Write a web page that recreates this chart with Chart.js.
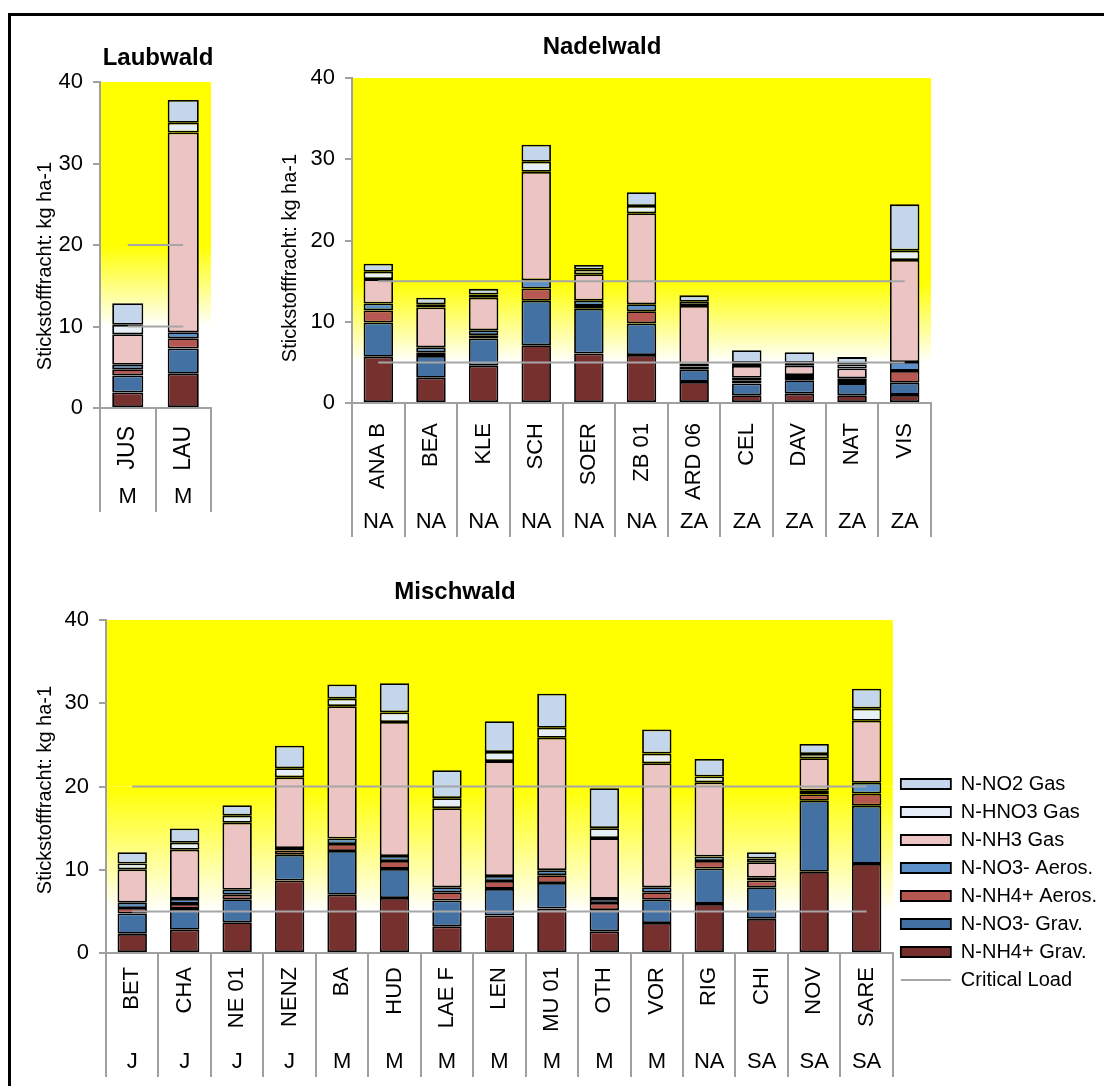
<!doctype html>
<html lang="de">
  <head>
    <meta charset="UTF-8" />
    <title>Stickstofffracht</title>
    <script src="https://cdn.jsdelivr.net/npm/chart.js"></script>
    <style>
      html,
      body {
        margin: 0;
        padding: 0;
        background: #fff;
        overflow: hidden;
      }
      body {
        position: relative;
        width: 1104px;
        height: 1086px;
      }
      .frame {
        position: absolute;
        left: 8px;
        top: 13px;
        width: 1200px;
        height: 1200px;
        border-left: 3px solid #000;
        border-top: 3px solid #000;
      }
      canvas {
        position: absolute;
      }
      #laub { left: 0; top: 0; }
      #nadel { left: 240px; top: 0; }
      #misch { left: 0; top: 560px; }
    </style>
  </head>

  <body>
    <div class="frame"></div>
    <canvas id="laub" width="232" height="530"></canvas>
    <canvas id="nadel" width="712" height="560"></canvas>
    <canvas id="misch" width="1107" height="526"></canvas>

    <script>
      // series, bottom of the stack first
      const seriesNames = ["N-NH4+ Grav.", "N-NO3- Grav.", "N-NH4+ Aeros.", "N-NO3- Aeros.", "N-NH3 Gas", "N-HNO3 Gas", "N-NO2 Gas"];
      const seriesColors = ["#76302e", "#4471a4", "#b65752", "#5b90cb", "#ebc4c3", "#e6eef8", "#c3d6ec"];
      const yMax = 40;
      const yStep = 10;
      const yTitleText = "Stickstofffracht: kg ha-1";

      // Laubwald
      const laubSites = ["JUS", "LAU"];
      const laubGroups = ["M", "M"];
      const laubNH4Grav = [1.9, 4.2];
      const laubNO3Grav = [2.1, 3.1];
      const laubNH4Aeros = [0.75, 1.25];
      const laubNO3Aeros = [0.55, 0.75];
      const laubNH3Gas = [3.75, 24.5];
      const laubHNO3Gas = [1.15, 1.2];
      const laubNO2Gas = [2.65, 2.8];
      const laubCritHigh = [20, 20];
      const laubCritLow = [10, 10];

      // Nadelwald
      const nadelSites = ["ANA B", "BEA", "KLE", "SCH", "SOER", "ZB 01", "ARD 06", "CEL", "DAV", "NAT", "VIS"];
      const nadelGroups = ["NA", "NA", "NA", "NA", "NA", "NA", "ZA", "ZA", "ZA", "ZA", "ZA"];
      const nadelNH4Grav = [5.7, 3.1, 4.6, 7.1, 6.1, 5.9, 2.6, 0.95, 1.15, 0.95, 1.0];
      const nadelNO3Grav = [4.2, 2.7, 3.35, 5.5, 5.5, 3.9, 1.5, 1.45, 1.65, 1.5, 1.5];
      const nadelNH4Aeros = [1.5, 0.45, 0.4, 1.5, 0.35, 1.5, 0.4, 0.35, 0.4, 0.25, 1.45];
      const nadelNO3Aeros = [0.85, 0.6, 0.6, 1.0, 0.65, 0.85, 0.35, 0.35, 0.25, 0.35, 1.1];
      const nadelNH3Gas = [3.0, 4.9, 4.0, 13.35, 3.25, 11.2, 7.1, 1.45, 1.15, 1.2, 12.55];
      const nadelHNO3Gas = [0.9, 0.4, 0.4, 1.25, 0.55, 0.9, 0.5, 0.4, 0.35, 0.5, 1.15];
      const nadelNO2Gas = [1.0, 0.8, 0.7, 2.1, 0.6, 1.7, 0.8, 1.55, 1.3, 0.9, 5.7];
      const nadelCritHigh = [15, 15, 15, 15, 15, 15, 15, 15, 15, 15, 15];
      const nadelCritLow = [5, 5, 5, 5, 5, 5, 5, 5, 5, 5, 5];

      // Mischwald
      const mischSites = ["BET", "CHA", "NE 01", "NENZ", "BA", "HUD", "LAE F", "LEN", "MU 01", "OTH", "VOR", "RIG", "CHI", "NOV", "SARE"];
      const mischGroups = ["J", "J", "J", "J", "M", "M", "M", "M", "M", "M", "M", "NA", "SA", "SA", "SA"];
      const mischNH4Grav = [2.3, 2.8, 3.7, 8.7, 7.0, 6.6, 3.2, 4.5, 5.35, 2.6, 3.6, 5.9, 4.1, 9.75, 10.7];
      const mischNO3Grav = [2.45, 2.5, 2.75, 3.1, 5.25, 3.5, 3.1, 3.2, 3.05, 2.55, 2.8, 4.25, 3.8, 8.55, 7.0];
      const mischNH4Aeros = [0.65, 0.6, 0.55, 0.5, 0.85, 0.95, 1.0, 0.95, 0.95, 0.85, 0.9, 0.9, 0.8, 0.75, 1.45];
      const mischNO3Aeros = [0.65, 0.6, 0.6, 0.3, 0.65, 0.6, 0.6, 0.6, 0.6, 0.5, 0.6, 0.55, 0.35, 0.45, 1.3];
      const mischNH3Gas = [4.0, 5.9, 8.05, 8.5, 15.9, 16.1, 9.5, 13.8, 15.9, 7.3, 14.9, 8.9, 1.85, 3.9, 7.45];
      const mischHNO3Gas = [0.7, 0.85, 0.85, 1.1, 0.9, 1.15, 1.2, 1.1, 1.2, 1.2, 1.15, 0.7, 0.45, 0.5, 1.45];
      const mischNO2Gas = [1.35, 1.7, 1.25, 2.7, 1.7, 3.5, 3.35, 3.7, 4.1, 4.8, 2.9, 2.1, 0.75, 1.2, 2.4];
      const mischCritHigh = [20, 20, 20, 20, 20, 20, 20, 20, 20, 20, 20, 20, 20, 20, 20];
      const mischCritLow = [5, 5, 5, 5, 5, 5, 5, 5, 5, 5, 5, 5, 5, 5, 5];

      const FONT = '"Liberation Sans", Arial, sans-serif';
      const AXIS_GRAY = "#a0a0a0";
      Chart.defaults.font.family = FONT;
      Chart.defaults.font.size = 22;
      Chart.defaults.color = "#000";

      // yellow band above the upper critical load, fading to white at the lower one
      const bgFill = {
        id: "bgFill",
        beforeDraw(chart, args, opts) {
          const { ctx, chartArea: a, scales } = chart;
          const y = scales.y;
          const yTop = y.getPixelForValue(yMax);
          const yHi = y.getPixelForValue(opts.high);
          const yLo = y.getPixelForValue(opts.low);
          ctx.save();
          ctx.fillStyle = "#ffff00";
          ctx.fillRect(a.left, yTop, a.right - a.left, yHi - yTop);
          const g = ctx.createLinearGradient(0, yHi, 0, yLo);
          g.addColorStop(0, "#ffff00");
          g.addColorStop(1, "#ffffff");
          ctx.fillStyle = g;
          ctx.fillRect(a.left, yHi, a.right - a.left, yLo - yHi);
          ctx.restore();
        },
      };

      // panel title and y axis title, placed like in the excel sheet
      const panelText = {
        id: "panelText",
        afterDraw(chart, args, opts) {
          const ctx = chart.ctx;
          ctx.save();
          ctx.fillStyle = "#000";
          ctx.textAlign = "center";
          ctx.textBaseline = "middle";
          ctx.font = "bold 24px " + FONT;
          ctx.fillText(opts.title, opts.titleX, opts.titleY);
          ctx.translate(opts.axisX, opts.axisY);
          ctx.rotate(-Math.PI / 2);
          ctx.font = "20px " + FONT;
          ctx.fillText(yTitleText, 0, 0);
          ctx.restore();
        },
      };

      // move the legend down next to the lower part of the plot
      const legendShift = {
        id: "legendShift",
        afterLayout(chart, args, opts) {
          const lg = chart.legend;
          if (!lg || opts.top == null) return;
          const h = lg.bottom - lg.top;
          lg.top = opts.top;
          lg.bottom = opts.top + h;
        },
      };

      function buildChart(id, p) {
        const datasets = p.values.map((vals, i) => ({
          type: "bar",
          label: seriesNames[i],
          data: vals,
          backgroundColor: seriesColors[i],
          borderColor: "#000",
          borderWidth: 1.8,
          borderSkipped: false,
          stack: "n",
          order: 1,
          barPercentage: 0.56,
          categoryPercentage: 1,
        }));
        p.critical.forEach((vals, k) => {
          datasets.push({
            type: "line",
            label: "Critical Load",
            data: vals,
            borderColor: "#a6a6a6",
            backgroundColor: "#a6a6a6",
            borderWidth: 2,
            pointRadius: 0,
            stack: "cl" + k,
            order: 0,
          });
        });

        return new Chart(document.getElementById(id), {
          type: "bar",
          data: { labels: p.sites, datasets },
          plugins: [bgFill, panelText, legendShift],
          options: {
            responsive: false,
            animation: false,
            layout: { padding: p.padding },
            plugins: {
              tooltip: { enabled: false },
              bgFill: { high: p.critical[0][0], low: p.critical[1][0] },
              panelText: p.text,
              legendShift: { top: p.legendTop },
              legend: {
                display: !!p.legend,
                position: "right",
                align: "start",
                labels: {
                  usePointStyle: true,
                  pointStyleWidth: 50,
                  boxHeight: 10,
                  padding: 8,
                  font: { size: 20 },
                  color: "#000",
                  generateLabels(chart) {
                    const items = Chart.defaults.plugins.legend.labels.generateLabels(chart);
                    const isLine = (it) => chart.data.datasets[it.datasetIndex].type === "line";
                    const bars = items.filter((it) => !isLine(it)).reverse();
                    const line = items.find(isLine);
                    bars.forEach((it) => (it.pointStyle = "rect"));
                    line.pointStyle = "line";
                    return bars.concat([line]);
                  },
                },
              },
            },
            scales: {
              x: {
                stacked: true,
                weight: 0,
                border: { color: AXIS_GRAY, width: 2 },
                grid: { drawOnChartArea: false, offset: true, tickLength: p.siteRow, color: AXIS_GRAY, lineWidth: 2 },
                ticks: { minRotation: 90, maxRotation: 90, autoSkip: false, padding: p.siteTop - p.siteRow, font: { size: p.siteFont } },
                afterFit: (s) => { s.height = p.siteRow; },
              },
              x2: {
                type: "category",
                position: "bottom",
                labels: p.groups,
                offset: true,
                weight: 1,
                border: { display: false },
                grid: { drawOnChartArea: false, offset: true, tickLength: p.groupRow, color: AXIS_GRAY, lineWidth: 2 },
                ticks: { autoSkip: false, maxRotation: 0, padding: -28, font: { size: 22 } },
                afterFit: (s) => { s.height = p.groupRow; },
              },
              y: {
                stacked: true,
                min: 0,
                max: yMax,
                border: { color: AXIS_GRAY, width: 2 },
                grid: { drawOnChartArea: false, tickLength: 7, color: AXIS_GRAY, lineWidth: 2 },
                ticks: { stepSize: yStep, padding: 10, font: { size: 22 } },
                afterFit: (s) => { s.width = p.yWidth; },
              },
            },
          },
        });
      }

      buildChart("laub", {
        sites: laubSites,
        groups: laubGroups,
        values: [laubNH4Grav, laubNO3Grav, laubNH4Aeros, laubNO3Aeros, laubNH3Gas, laubHNO3Gas, laubNO2Gas],
        critical: [laubCritHigh, laubCritLow],
        text: { title: "Laubwald", titleX: 158, titleY: 58, axisX: 45, axisY: 266 },
        padding: { left: 0, right: 21, top: 82, bottom: 18 },
        yWidth: 100,
        siteRow: 78,
        siteTop: 18,
        siteFont: 23,
        groupRow: 26,
      });

      buildChart("nadel", {
        sites: nadelSites,
        groups: nadelGroups,
        values: [nadelNH4Grav, nadelNO3Grav, nadelNH4Aeros, nadelNO3Aeros, nadelNH3Gas, nadelHNO3Gas, nadelNO2Gas],
        critical: [nadelCritHigh, nadelCritLow],
        text: { title: "Nadelwald", titleX: 362, titleY: 47, axisX: 50, axisY: 258 },
        padding: { left: 0, right: 21, top: 78, bottom: 23 },
        yWidth: 112,
        siteRow: 102,
        siteTop: 20,
        siteFont: 22,
        groupRow: 32,
      });

      buildChart("misch", {
        sites: mischSites,
        groups: mischGroups,
        values: [mischNH4Grav, mischNO3Grav, mischNH4Aeros, mischNO3Aeros, mischNH3Gas, mischHNO3Gas, mischNO2Gas],
        critical: [mischCritHigh, mischCritLow],
        text: { title: "Mischwald", titleX: 455, titleY: 32, axisX: 45, axisY: 230 },
        padding: { left: 0, right: 0, top: 60, bottom: 9 },
        yWidth: 106,
        siteRow: 77,
        siteTop: 14,
        siteFont: 22,
        groupRow: 47,
        legend: true,
        legendTop: 206,
      });
    </script>
  </body>
</html>
